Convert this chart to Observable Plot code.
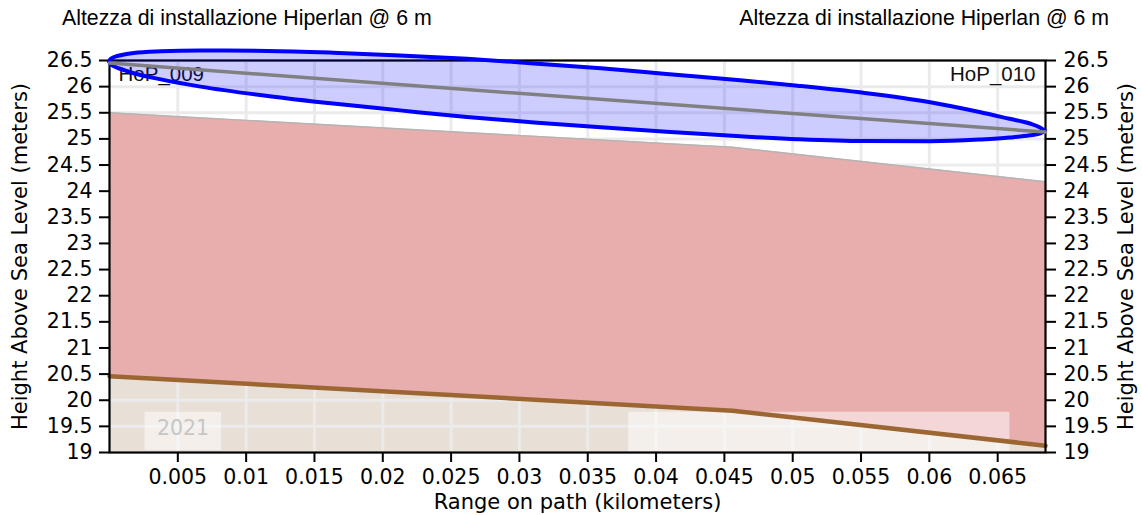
<!DOCTYPE html>
<html>
<head>
<meta charset="utf-8">
<script src="https://cdn.jsdelivr.net/npm/d3@7"></script>
<script src="https://cdn.jsdelivr.net/npm/@observablehq/plot@0.6"></script>
<style>
  html, body { margin: 0; padding: 0; background: white; }
  #wrap { width: 1142px; height: 515px; position: relative; overflow: hidden; }
  #head { position: relative; height: 40px; font-family: "Liberation Sans", Arial, sans-serif; font-size: 21.3px; line-height: 21px; color: #000; }
  #head span { position: absolute; top: 8px; white-space: nowrap; }
  #t1 { left: 62px; }
  #t2 { right: 33px; }
  svg { display: block; }
</style>
</head>
<body>
<div id="wrap">
  <div id="head"><span id="t1"></span><span id="t2"></span></div>
  <div id="chart"></div>
</div>
<script>
// ---- text ----
const titleLeft = "Altezza di installazione Hiperlan @ 6 m";
const titleRight = "Altezza di installazione Hiperlan @ 6 m";
const yLabel = "Height Above Sea Level (meters)";
const xLabel = "Range on path (kilometers)";
const siteLabels = ["HoP_009", "HoP_010"];
const yearLabel = ["2021"];

// ---- axes ----
const xDomain = [0, 0.0685];
const yDomain = [19, 26.5];
const xTicks = [0.005, 0.01, 0.015, 0.02, 0.025, 0.03, 0.035, 0.04, 0.045, 0.05, 0.055, 0.06, 0.065];
const yTicks = [19, 19.5, 20, 20.5, 21, 21.5, 22, 22.5, 23, 23.5, 24, 24.5, 25, 25.5, 26, 26.5];

// ---- terrain profile (km, m) ----
const profileX = [0, 0.0456, 0.0685];
const groundY = [20.46, 19.80, 19.13];
const clutterY = [25.50, 24.84, 24.18];

// ---- line of sight ----
const losX = [0, 0.0685];
const losY = [26.45, 25.13];

// ---- Fresnel zone outline ----
const fresnelX = [0, 0.00012, 0.00048, 0.00085, 0.0018, 0.0038, 0.0067, 0.0116, 0.0164, 0.0213, 0.0262, 0.0311, 0.0360, 0.0408, 0.0462, 0.0504, 0.0552, 0.0601, 0.0637, 0.0659, 0.0674, 0.0681, 0.0685];
const fresnelTop = [26.471, 26.519, 26.567, 26.592, 26.634, 26.666, 26.682, 26.674, 26.640, 26.588, 26.523, 26.435, 26.341, 26.232, 26.112, 26.008, 25.872, 25.692, 25.505, 25.375, 25.285, 25.214, 25.147];
const fresnelBottom = [26.471, 26.423, 26.366, 26.328, 26.246, 26.129, 25.991, 25.811, 25.666, 25.536, 25.410, 25.304, 25.212, 25.128, 25.042, 24.985, 24.948, 24.945, 24.977, 25.015, 25.059, 25.092, 25.147];

// ---- translucent label boxes ----
const boxX1 = [0.0026, 0.0380];
const boxX2 = [0.0082, 0.0659];
const boxY1 = [19.04, 19.0];
const boxY2 = [19.77, 19.77];
const yearX = [0.00538];
const yearY = [19.46];

// ---- build tables ----
const profile = profileX.map((x, i) => ({x, ground: groundY[i], clutter: clutterY[i]}));
const los = losX.map((x, i) => ({x, y: losY[i]}));
const fresnel = fresnelX.map((x, i) => ({x, top: fresnelTop[i], bottom: fresnelBottom[i]}));
const boxes = boxX1.map((x1, i) => ({x1, x2: boxX2[i], y1: boxY1[i], y2: boxY2[i]}));
const years = yearLabel.map((t, i) => ({t, x: yearX[i], y: yearY[i]}));

document.getElementById("t1").textContent = titleLeft;
document.getElementById("t2").textContent = titleRight;

const fmt = d => String(d);
const tickFont = 20.5;

const chart = Plot.plot({
  width: 1142,
  height: 475,
  marginLeft: 109,
  marginRight: 97,
  marginTop: 20,
  marginBottom: 63,
  x: {domain: xDomain, axis: null},
  y: {domain: yDomain, axis: null},
  style: {fontFamily: "'DejaVu Sans', sans-serif", fontSize: "20.5px", color: "black", background: "white", overflow: "visible"},
  marks: [
    Plot.areaY(profile, {x: "x", y1: () => yDomain[0], y2: "ground", fill: "#E8DFD6"}),
    Plot.gridX(xTicks, {stroke: "#EBEBEB", strokeOpacity: 1, strokeWidth: 3}),
    Plot.gridY(yTicks, {stroke: "#EBEBEB", strokeOpacity: 1, strokeWidth: 3}),
    Plot.areaY(profile, {x: "x", y1: "ground", y2: "clutter", fill: "#E8ADAD"}),
    Plot.line(profile, {x: "x", y: "clutter", stroke: "#B4B4B4", strokeWidth: 1.4}),
    Plot.rect(boxes, {x1: "x1", x2: "x2", y1: "y1", y2: "y2", fill: "white", fillOpacity: 0.5}),
    Plot.text(years, {x: "x", y: "y", text: "t", fill: "#C6C6C6", fontSize: 20.5}),
    Plot.line(profile, {x: "x", y: "ground", stroke: "#9C6633", strokeWidth: 4.5}),
    Plot.frame({stroke: "black", strokeWidth: 2.2}),
    Plot.axisX(xTicks, {anchor: "bottom", tickSize: 10, tickPadding: 7, tickFormat: fmt, strokeWidth: 2, fontSize: tickFont, label: null}),
    Plot.axisY(yTicks, {anchor: "left", tickSize: 10, tickPadding: 7, tickFormat: fmt, strokeWidth: 2, fontSize: tickFont, label: null}),
    Plot.axisY(yTicks, {anchor: "right", tickSize: 10, tickPadding: 8, tickFormat: fmt, strokeWidth: 2, fontSize: tickFont, label: null}),
    Plot.text([yLabel], {text: d => d, frameAnchor: "left", dx: -89, rotate: -90, textAnchor: "middle", lineAnchor: "middle", fontSize: 21}),
    Plot.text([yLabel], {text: d => d, frameAnchor: "right", dx: 81, rotate: -90, textAnchor: "middle", lineAnchor: "middle", fontSize: 21}),
    Plot.text([xLabel], {text: d => d, frameAnchor: "bottom", dy: 50, textAnchor: "middle", lineAnchor: "middle", fontSize: 21}),
    Plot.text([siteLabels[0]], {text: d => d, frameAnchor: "top-left", dx: 9, dy: 14, textAnchor: "start", lineAnchor: "middle", fontSize: 20.5, fontFamily: "'Liberation Sans', Arial, sans-serif", fill: "#111"}),
    Plot.text([siteLabels[1]], {text: d => d, frameAnchor: "top-right", dx: -10, dy: 14, textAnchor: "end", lineAnchor: "middle", fontSize: 20.5, fontFamily: "'Liberation Sans', Arial, sans-serif", fill: "#111"}),
    Plot.areaY(fresnel, {x: "x", y1: "bottom", y2: "top", curve: "monotone-x", fill: "#0000FF", fillOpacity: 0.2, stroke: "#0000FF", strokeWidth: 4}),
    Plot.line(los, {x: "x", y: "y", stroke: "#808080", strokeWidth: 3.5})
  ]
});
document.getElementById("chart").appendChild(chart);
</script>
</body>
</html>
